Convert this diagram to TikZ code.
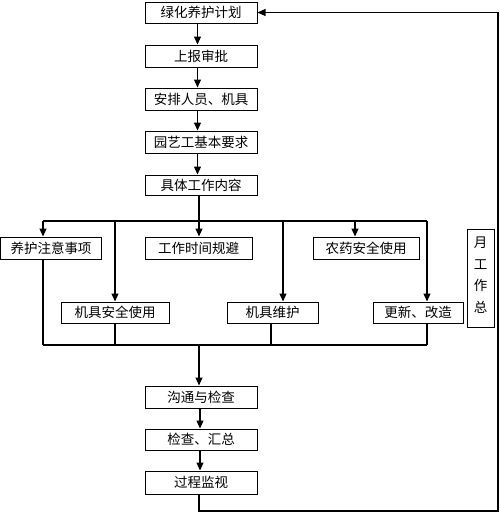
\documentclass[tikz,border=0pt]{standalone}
\usepackage{fontspec}
\newfontfamily\cjk{Noto Sans CJK SC}
\usetikzlibrary{arrows.meta}
\begin{document}
\begin{tikzpicture}[x=1pt,y=-1pt,
  box/.style={draw,line width=1pt,inner sep=0pt,font=\cjk\fontsize{13.5}{15}\selectfont},
  ln/.style={line width=1.1pt},
  arr/.style={ln,-{Triangle[length=8pt,width=7pt]}}]
\useasboundingbox (0,0) rectangle (500,512);
% main column
\node[box,minimum width=112pt,minimum height=21pt] (b1) at (201,12.5) {绿化养护计划};
\node[box,minimum width=112pt,minimum height=22pt] (b2) at (201,56) {上报审批};
\node[box,minimum width=112pt,minimum height=22pt] (b3) at (201,99) {安排人员、机具};
\node[box,minimum width=112pt,minimum height=22pt] (b4) at (201,142) {园艺工基本要求};
\node[box,minimum width=112pt,minimum height=20pt] (b5) at (201,185) {具体工作内容};
% row 1
\node[box,minimum width=101pt,minimum height=22pt] (r1a) at (51,248) {养护注意事项};
\node[box,minimum width=107pt,minimum height=22pt] (r1b) at (198.5,248) {工作时间规避};
\node[box,minimum width=106pt,minimum height=22pt] (r1c) at (366,248) {农药安全使用};
% row 2
\node[box,minimum width=108pt,minimum height=21pt] (r2a) at (115,312.5) {机具安全使用};
\node[box,minimum width=91pt,minimum height=21pt] (r2b) at (272.5,312.5) {机具维护};
\node[box,minimum width=90pt,minimum height=21pt] (r2c) at (418,312.5) {更新、改造};
% side box
\node[box,minimum width=27pt,minimum height=98pt,anchor=north] (side) at (480.5,229) {};
\node[font=\cjk\fontsize{13.5}{21.5}\selectfont,align=center,anchor=north,inner sep=0pt] (sidet) at ([yshift=-8pt]side.north) {月\\工\\作\\总};
% lower column
\node[box,minimum width=112pt,minimum height=22pt] (c1) at (201,397) {沟通与检查};
\node[box,minimum width=112pt,minimum height=21pt] (c2) at (201,439.5) {检查、汇总};
\node[box,minimum width=112pt,minimum height=23pt] (c3) at (201,482.5) {过程监视};
% coordinates
\coordinate (mc) at (197.5,0);
\coordinate (tA) at (43,221);
\coordinate (tD) at (115,221);
\coordinate (tB) at (199,221);
\coordinate (tE) at (283,221);
\coordinate (tC) at (355,221);
\coordinate (tF) at (427,221);
\coordinate (uA) at (43,345);
\coordinate (uD) at (115,345);
\coordinate (uB) at (199,345);
\coordinate (uE) at (271,345);
\coordinate (uF) at (427,345);
\coordinate (lc) at (200,0);
\coordinate (fb1) at (199,511);
\coordinate (fb2) at (498,511);
\coordinate (fb3) at (498,12.5);
% arrows main column
\draw[arr] (b1.south -| mc) -- (b2.north -| mc);
\draw[arr] (b2.south -| mc) -- (b3.north -| mc);
\draw[arr] (b3.south -| mc) -- (b4.north -| mc);
\draw[arr] (b4.south -| mc) -- (b5.north -| mc);
\draw[ln] (b5.south -| tB) -- (tB);
\draw[ln] (tA) -- (tF);
\draw[arr] (tA) -- (tA |- r1a.north);
\draw[arr] (tB) -- (tB |- r1b.north);
\draw[arr] (tC) -- (tC |- r1c.north);
\draw[arr] (tD) -- (tD |- r2a.north);
\draw[arr] (tE) -- (tE |- r2b.north);
\draw[arr] (tF) -- (tF |- r2c.north);
% lower bus
\draw[ln] (uA |- r1a.south) -- (uA);
\draw[ln] (uD |- r2a.south) -- (uD);
\draw[ln] (uE |- r2b.south) -- (uE);
\draw[ln] (uF |- r2c.south) -- (uF);
\draw[ln] (uA) -- (uF);
\draw[arr] (uB) -- (uB |- c1.north);
\draw[arr] (c1.south -| lc) -- (c2.north -| lc);
\draw[arr] (c2.south -| lc) -- (c3.north -| lc);
% feedback loop
\draw[arr] (c3.south -| fb1) -- (fb1) -- (fb2) -- (fb3) -- (b1.east);
\end{tikzpicture}
\end{document}
